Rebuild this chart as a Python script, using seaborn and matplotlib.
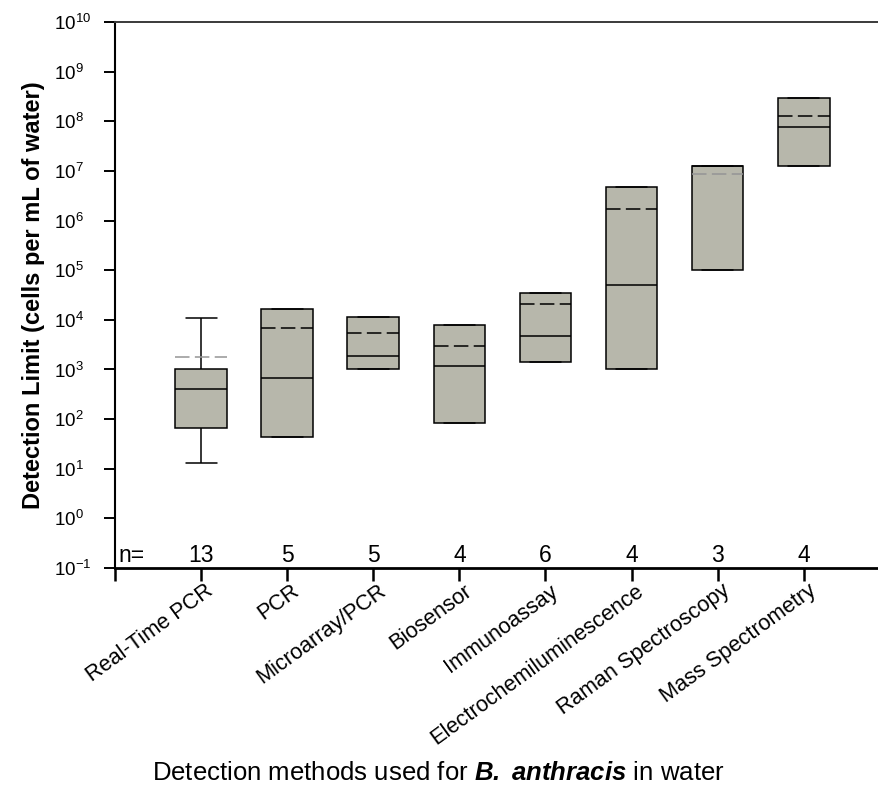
import numpy as np
import pandas as pd
import matplotlib
matplotlib.use("Agg")
import matplotlib.pyplot as plt
import matplotlib.ticker as mticker
import matplotlib.transforms as mtransforms
import seaborn as sns

# ---- data ----
methods = ["Real-Time PCR", "PCR", "Microarray/PCR", "Biosensor", "Immunoassay",
           "Electrochemiluminescence", "Raman Spectroscopy", "Mass Spectrometry"]
whisker_low = [13, 43, 1000, 85, 1390, 1000, 1.0e5, 1.26e7]
q1 = [65, 43, 1000, 85, 1390, 1000, 1.0e5, 1.26e7]
median = [410, 680, 1880, 1150, 4800, 5.0e4, 1.25e7, 7.8e7]
q3 = [1000, 16600, 11600, 8000, 35000, 4.8e6, 1.25e7, 2.9e8]
whisker_high = [11000, 16600, 11600, 8000, 35000, 4.8e6, 1.25e7, 2.9e8]
mean = [1800, 7000, 5400, 3000, 21000, 1.7e6, 8.5e6, 1.3e8]
n_counts = [13, 5, 5, 4, 6, 4, 3, 4]

# styles
mean_colors = ["#959595", "black", "black", "black", "black", "black", "#959595", "black"]
box_color = "#b7b7ab"

# ---- long table of five-number summaries ----
rows = []
for i, m in enumerate(methods):
    for v in (whisker_low[i], q1[i], median[i], q3[i], whisker_high[i]):
        rows.append({"method": m, "value": v})
df = pd.DataFrame(rows)

sns.set_style("ticks")
plt.rcParams["font.family"] = ["Liberation Sans", "DejaVu Sans"]
plt.rcParams["text.color"] = "black"
plt.rcParams["axes.labelcolor"] = "black"
plt.rcParams["xtick.color"] = "black"
plt.rcParams["ytick.color"] = "black"
plt.rcParams["mathtext.fontset"] = "custom"
plt.rcParams["mathtext.rm"] = "Liberation Sans"
plt.rcParams["mathtext.it"] = "Liberation Sans:italic"
plt.rcParams["mathtext.bf"] = "Liberation Sans:bold"
plt.rcParams["mathtext.bfit"] = "Liberation Sans:italic:bold"

fig = plt.figure(figsize=(8.79, 7.86), dpi=100)
ax = fig.add_axes([115 / 879, 1 - 568 / 786, 1 - 115 / 879, 546 / 786])

box_w = 0.6
sns.boxplot(data=df, x="method", y="value", order=methods, whis=(0, 100),
            width=box_w, color=box_color, saturation=1, linecolor="black",
            linewidth=1.1, log_scale=True, capwidths=0.36, ax=ax,
            showfliers=False)

# mean lines (dashed)
for i, (mv, c) in enumerate(zip(mean, mean_colors)):
    ax.plot([i - box_w / 2, i + box_w / 2], [mv, mv], color=c, lw=1.1,
            dashes=(9.5, 3.5), zorder=5)

ax.set_ylim(1e-1, 1e10)
ax.set_xlim(-1, 7.875)
ax.yaxis.set_major_locator(mticker.LogLocator(base=10, numticks=20))
ax.yaxis.set_minor_locator(mticker.NullLocator())
ax.yaxis.set_major_formatter(mticker.LogFormatterSciNotation())

ax.set_xticks(range(-1, len(methods)))
ax.set_xticklabels([""] + methods, rotation=36, ha="right",
                   rotation_mode="anchor", fontsize=15.7)
ax.tick_params(axis="x", length=9, width=1.8, pad=0)
ax.tick_params(axis="y", length=8, width=1.4, pad=36, labelsize=13.5)
for lab in ax.get_yticklabels():
    lab.set_horizontalalignment("left")
shift = mtransforms.ScaledTranslation(4 / 100, 0, fig.dpi_scale_trans)
for lab in ax.get_xticklabels():
    lab.set_transform(lab.get_transform() + shift)

for s in ["left", "bottom"]:
    ax.spines[s].set_color("black")
ax.spines["left"].set_linewidth(1.5)
ax.spines["bottom"].set_linewidth(2.0)
ax.spines["top"].set_linewidth(1.4)
ax.spines["top"].set_color("#3a3a3a")
ax.spines["right"].set_visible(False)

# n= labels
trans = mtransforms.blended_transform_factory(ax.transData, ax.transAxes)
ax.text(0.004, 0.011, "n=", transform=ax.transAxes, ha="left", va="baseline",
        fontsize=16.5)
for i, nv in enumerate(n_counts):
    ax.text(i, 0.011, str(nv), transform=trans, ha="center", va="baseline",
            fontsize=16.5)

ax.set_ylabel("Detection Limit (cells per mL of water)", fontsize=17,
              fontweight="bold")
ax.yaxis.set_label_coords(-(115 - 45) / 764, 0.5)
ax.set_xlabel(r"Detection methods used for $\mathbfit{B.}$ $\mathbfit{anthracis}$ in water",
              fontsize=18.5)
ax.xaxis.set_label_coords((438 - 115) / 764, -(780 - 568) / 546)
ax.xaxis.label.set_va("baseline")

fig.savefig("out.png", dpi=100, facecolor="white")
